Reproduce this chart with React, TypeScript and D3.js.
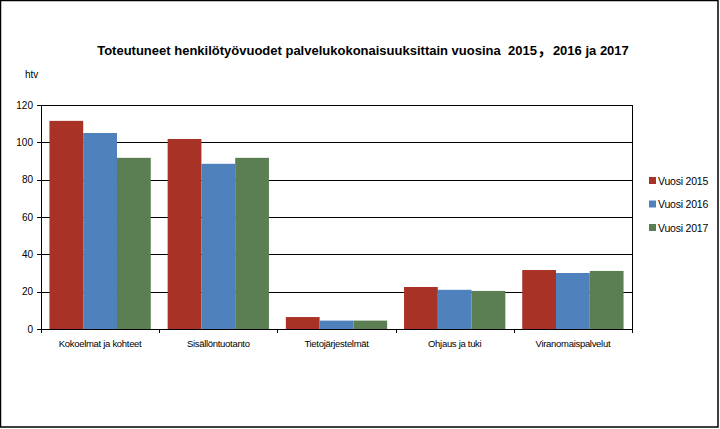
import React from "react";
import * as d3 from "d3";

const categories = ["Kokoelmat ja kohteet", "Sisällöntuotanto", "Tietojärjestelmät", "Ohjaus ja tuki", "Viranomaispalvelut"];
const seriesNames = ["Vuosi 2015", "Vuosi 2016", "Vuosi 2017"];
const values2015 = [111.5, 101.8, 6.4, 22.5, 31.6];
const values2016 = [105, 88.5, 4.5, 21, 30];
const values2017 = [91.7, 91.7, 4.5, 20.4, 31.1];
const yTicks = [0, 20, 40, 60, 80, 100, 120];
const colors = ["#A83226", "#4F81BD", "#5B7F53"];

const W = 720, H = 429;
const left = 41, right = 632, top = 105, bottom = 329;
const font = "'Liberation Sans', Arial, sans-serif";

export default function App() {
  const series = [values2015, values2016, values2017];
  const x = d3.scaleBand<string>().domain(categories).range([left, right]).paddingInner(0).paddingOuter(0);
  const inner = d3.scaleBand<number>().domain([0, 1, 2]).range([0, x.bandwidth()]).paddingInner(0).paddingOuter(0.25);
  const y = d3.scaleLinear().domain([0, 120]).range([bottom, top]);
  const boundaries = [left, ...categories.map((c) => (x(c) as number) + x.bandwidth())];

  return (
    <svg width={W} height={H} style={{ position: "absolute", left: 0, top: 0, background: "#fff" }} fontFamily={font}>
      <rect x={0.5} y={0.5} width={W - 2.5} height={H - 2.5} fill="#fff" stroke="#000" strokeWidth={1.5} />
      <text x={363} y={55} textAnchor="middle" fontSize={13} fontWeight="bold" fill="#000" style={{ whiteSpace: "pre" }}>
        {"Toteutuneet henkilötyövuodet palvelukokonaisuuksittain vuosina  2015"}
        <tspan fontSize={16} fontFamily="'Noto Sans CJK SC', sans-serif">{"，"}</tspan>
        <tspan>{"2016 ja 2017"}</tspan>
      </text>
      <text x={25} y={78} fontSize={10} fill="#000">htv</text>
      {yTicks.filter((t) => t > 0).map((t) => (
        <line key={t} x1={left} x2={right} y1={Math.round(y(t)) + 0.5} y2={Math.round(y(t)) + 0.5} stroke="#000" strokeWidth={1} />
      ))}
      <line x1={right + 0.5} x2={right + 0.5} y1={top} y2={bottom} stroke="#000" />
      {series.map((vals, si) =>
        categories.map((c, ci) => (
          <rect
            key={`${si}-${ci}`}
            x={(x(c) as number) + (inner(si) as number)}
            y={y(vals[ci])}
            width={inner.bandwidth()}
            height={y(0) - y(vals[ci])}
            fill={colors[si]}
          />
        ))
      )}
      <line x1={left + 0.5} x2={left + 0.5} y1={top} y2={bottom} stroke="#000" />
      <line x1={left} x2={right + 1} y1={bottom + 0.5} y2={bottom + 0.5} stroke="#000" />
      {yTicks.map((t) => (
        <g key={t}>
          <line x1={left - 4} x2={left} y1={Math.round(y(t)) + 0.5} y2={Math.round(y(t)) + 0.5} stroke="#000" />
          <text x={33} y={y(t) + 3.5} textAnchor="end" fontSize={10} fill="#000">{t}</text>
        </g>
      ))}
      {boundaries.map((b, i) => (
        <line key={i} x1={Math.round(b) + 0.5} x2={Math.round(b) + 0.5} y1={bottom} y2={bottom + 4} stroke="#000" />
      ))}
      {categories.map((c) => (
        <text key={c} x={(x(c) as number) + x.bandwidth() / 2} y={347} textAnchor="middle" fontSize={9.5} fill="#000" letterSpacing={-0.3}>
          {c}
        </text>
      ))}
      {seriesNames.map((n, i) => (
        <g key={n}>
          <rect x={649} y={177 + i * 23.5} width={7} height={7} fill={colors[i]} />
          <text x={658} y={184.5 + i * 23.5} fontSize={10.5} fill="#000" letterSpacing={-0.2}>{n}</text>
        </g>
      ))}
    </svg>
  );
}
